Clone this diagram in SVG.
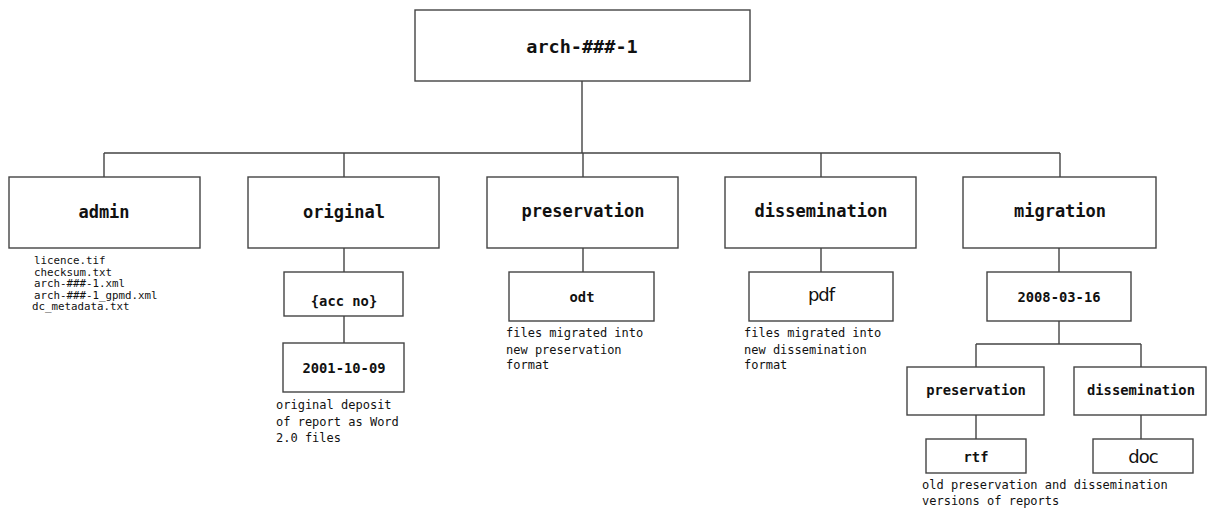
<svg xmlns="http://www.w3.org/2000/svg" width="1208" height="509" viewBox="0 0 1208 509">
<style>
.box{fill:#fff;stroke:#444;stroke-width:1.4}
.ln{fill:none;stroke:#444;stroke-width:1.4}
.t{font-family:"DejaVu Sans Mono","Liberation Mono",monospace;fill:#111;text-anchor:middle}
.l0{font-size:18.5px;font-weight:bold}
.l1{font-size:17px;font-weight:bold}
.l2{font-size:13.8px;font-weight:bold}
.s{font-family:"DejaVu Sans","Liberation Sans",sans-serif;font-size:18px;fill:#111;text-anchor:middle;letter-spacing:-1px}
.d{font-family:"DejaVu Sans Mono","Liberation Mono",monospace;fill:#111;font-size:12px}
.d2{font-family:"DejaVu Sans Mono","Liberation Mono",monospace;fill:#111;font-size:10.8px}
</style>
<g id="connectors">
<path class="ln" d="M582,81V153M104,153H1060M104,153V177M344,153V177M583,153V177M821,153V177M1060,153V177"/>
<path class="ln" d="M344,248V272M344,316V343M583,248V272M821,248V272M1059,248V272"/>
<path class="ln" d="M1059,321V344M976,344H1141M976,344V367M1141,344V367M976,415V439M1141,415V439"/>
</g>
<g id="root"><rect class="box" x="415" y="10" width="335" height="71"/><text class="t l0" x="582" y="53">arch-###-1</text></g>
<g id="admin"><rect class="box" x="9" y="177" width="191" height="71"/><text class="t l1" x="104" y="218">admin</text>
<text class="d2" x="34" y="264">licence.tif</text>
<text class="d2" x="34" y="276">checksum.txt</text>
<text class="d2" x="34" y="287">arch-###-1.xml</text>
<text class="d2" x="34" y="299">arch-###-1_gpmd.xml</text>
<text class="d2" x="32" y="310">dc_metadata.txt</text></g>
<g id="original"><rect class="box" x="248" y="177" width="191" height="71"/><text class="t l1" x="344" y="218">original</text></g>
<g id="accno"><rect class="box" x="284" y="272" width="119" height="44"/><text class="t l2" x="344" y="306">{acc no}</text></g>
<g id="d20011009"><rect class="box" x="283" y="343" width="121" height="49"/><text class="t l2" x="344" y="373">2001-10-09</text>
<text class="d" x="276" y="409">original deposit</text>
<text class="d" x="276" y="426">of report as Word</text>
<text class="d" x="276" y="442">2.0 files</text></g>
<g id="preservation"><rect class="box" x="487" y="177" width="191" height="71"/><text class="t l1" x="583" y="217">preservation</text></g>
<g id="odt"><rect class="box" x="509" y="272" width="145" height="49"/><text class="t l2" x="582" y="302">odt</text>
<text class="d" x="506" y="337">files migrated into</text>
<text class="d" x="506" y="354">new preservation</text>
<text class="d" x="506" y="369">format</text></g>
<g id="dissemination"><rect class="box" x="725" y="177" width="191" height="71"/><text class="t l1" x="821" y="217">dissemination</text></g>
<g id="pdf"><rect class="box" x="749" y="272" width="144" height="49"/><text class="s" x="821" y="301">pdf</text>
<text class="d" x="744" y="337">files migrated into</text>
<text class="d" x="744" y="354">new dissemination</text>
<text class="d" x="744" y="369">format</text></g>
<g id="migration"><rect class="box" x="963" y="177" width="193" height="71"/><text class="t l1" x="1060" y="217">migration</text></g>
<g id="d20080316"><rect class="box" x="987" y="272" width="144" height="49"/><text class="t l2" x="1059" y="302">2008-03-16</text></g>
<g id="mig-preservation"><rect class="box" x="907" y="367" width="137" height="48"/><text class="t l2" x="976" y="395">preservation</text></g>
<g id="mig-dissemination"><rect class="box" x="1074" y="367" width="132" height="48"/><text class="t l2" x="1141" y="395">dissemination</text></g>
<g id="rtf"><rect class="box" x="926" y="439" width="100" height="34"/><text class="t l2" x="976" y="462">rtf</text>
<text class="d" x="922" y="489">old preservation and dissemination</text>
<text class="d" x="922" y="505">versions of reports</text></g>
<g id="doc"><rect class="box" x="1093" y="439" width="100" height="34"/><text class="s" x="1143" y="463">doc</text></g>
</svg>
